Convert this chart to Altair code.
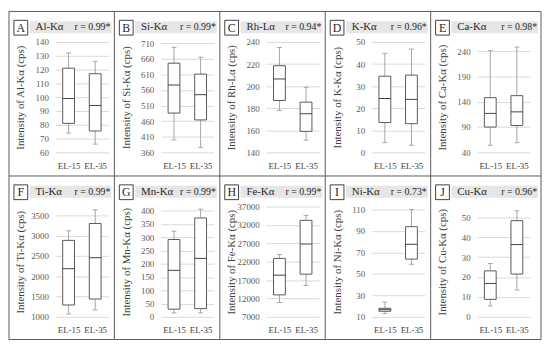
import altair as alt
import pandas as pd

letters = ["A", "B", "C", "D", "E", "F", "G", "H", "I", "J"]
elements = ["Al-Kα", "Si-Kα", "Rh-Lα", "K-Kα", "Ca-Kα",
            "Ti-Kα", "Mn-Kα", "Fe-Kα", "Ni-Kα", "Cu-Kα"]
r_labels = ["r = 0.99*", "r = 0.99*", "r = 0.94*", "r = 0.96*", "r = 0.98*",
            "r = 0.99*", "r = 0.99*", "r = 0.99*", "r = 0.73*", "r = 0.96*"]
groups = ["EL-15", "EL-35"]

# five-number summaries: [low whisker, Q1, median, Q3, high whisker]
el15 = [
    [74, 81, 99, 121, 132],
    [400, 486, 576, 646, 697],
    [178, 187, 206.5, 218.5, 235],
    [4.4, 13.5, 24.4, 34.5, 44.9],
    [54, 90, 117, 148, 241],
    [1073, 1293, 2187, 2886, 3122],
    [15, 29, 175, 291, 322],
    [10925, 12986, 18344, 22900, 23971],
    [13, 15.2, 16.7, 18, 23.8],
    [5.5, 8.8, 16.8, 23.1, 26.8],
]
el35 = [
    [66, 75.5, 94, 117, 126],
    [376, 464, 545, 611, 665],
    [151, 159, 175, 185.5, 199],
    [3.2, 13, 24, 35, 46.8],
    [59, 93, 120, 152, 248],
    [1171, 1440, 2459, 3301, 3638],
    [15, 31, 220, 372, 405],
    [15566, 18613, 26820, 33254, 34600],
    [59, 63.8, 77.6, 94, 110],
    [13.5, 21.5, 36.3, 48.3, 53.3],
]

tick_values = [
    [60, 70, 80, 90, 100, 110, 120, 130, 140],
    [360, 410, 460, 510, 560, 610, 660, 710],
    [140, 160, 180, 200, 220, 240],
    [0, 10, 20, 30, 40, 50],
    [40, 90, 140, 190, 240],
    [1000, 1500, 2000, 2500, 3000, 3500],
    [0, 50, 100, 150, 200, 250, 300, 350, 400],
    [7000, 12000, 17000, 22000, 27000, 32000, 37000],
    [10, 30, 50, 70, 90, 110],
    [0, 10, 20, 30, 40, 50],
]
y_min = [60, 360, 140, 0, 40, 1000, 0, 7000, 10, 0]
y_max = [140, 714, 240, 50, 258, 3720, 415, 37000, 112.75, 55.4]

FONT = "'Liberation Serif', 'DejaVu Serif', serif"
W, H = 54, 112
LEFT = -47          # panel left border, relative to plot area
TOP = -31           # panel top border, relative to plot area
LINE = "#595959"
WHISK = "#a6a6a6"
one = alt.Data(values=[{"k": 0}])


def vrule(x, y1, y2):
    return alt.Chart(one).mark_rule(color=LINE, strokeWidth=1).encode(
        x=alt.value(x), y=alt.value(y1), y2=alt.value(y2))


def hrule(y, x1, x2):
    return alt.Chart(one).mark_rule(color=LINE, strokeWidth=1).encode(
        y=alt.value(y), x=alt.value(x1), x2=alt.value(x2))


def panel(i):
    col, row = i % 5, i // 5
    df = pd.DataFrame({
        "group": groups,
        "low": [el15[i][0], el35[i][0]],
        "q1": [el15[i][1], el35[i][1]],
        "med": [el15[i][2], el35[i][2]],
        "q3": [el15[i][3], el35[i][3]],
        "high": [el15[i][4], el35[i][4]],
    })
    ysc = alt.Scale(domain=[y_min[i], y_max[i]], nice=False, zero=False)
    x = alt.X("group:N", sort=groups,
              scale=alt.Scale(type="point", padding=0.5),
              axis=alt.Axis(title=None, labelAngle=0, domain=False, ticks=False,
                            tickSize=0, grid=False, labelPadding=9,
                            labelOverlap=False,
                            labelFont=FONT, labelFontSize=9, labelColor="#404040"))
    yaxis = alt.Axis(values=tick_values[i], format="d", grid=True,
                     gridColor="#d9d9d9", gridWidth=1, domain=False, ticks=False,
                     tickSize=0, labelPadding=7, labelFont=FONT, labelFontSize=9,
                     labelOverlap=False, labelColor="#595959",
                     title=f"Intensity of {elements[i]} (cps)",
                     titleFont=FONT, titleFontSize=11, titleFontWeight="normal",
                     titleColor="#404040", titleX=-35, titleAngle=270,
                     titleAlign="center", titleBaseline="middle")

    def Y(field):
        return alt.Y(f"{field}:Q", scale=ysc, axis=yaxis)

    base = alt.Chart(df)
    whisk = base.mark_rule(color=WHISK, strokeWidth=1).encode(
        x=x, y=Y("low"), y2="high:Q")
    box = base.mark_bar(size=12, fill="white", stroke="#595959", strokeWidth=1).encode(
        x=x, y=Y("q1"), y2="q3:Q")
    med = base.mark_tick(size=12, thickness=1, color="#404040", opacity=1).encode(
        x=x, y=Y("med"))
    cap_lo = base.mark_tick(size=5, thickness=1, color=WHISK, opacity=1).encode(
        x=x, y=Y("low"))
    cap_hi = base.mark_tick(size=5, thickness=1, color=WHISK, opacity=1).encode(
        x=x, y=Y("high"))

    right = W + 11 if col == 4 else W + 6
    band_end = right - 3
    bottom = TOP + 167 if row == 0 else H + 23
    layers = [
        vrule(LEFT, TOP, bottom),
        hrule(TOP, LEFT, right),
    ]
    if col == 4:
        layers.append(vrule(right, TOP, bottom))
    if row == 1:
        layers.append(hrule(bottom, LEFT, right))
    band = alt.Chart(one).mark_rect(fill="#e6e6e6").encode(
        x=alt.value(LEFT + 21), x2=alt.value(band_end),
        y=alt.value(TOP + 10), y2=alt.value(TOP + 22))
    lbox = alt.Chart(one).mark_rect(fill="white", stroke="#404040", strokeWidth=1).encode(
        x=alt.value(LEFT + 5), x2=alt.value(LEFT + 19),
        y=alt.value(TOP + 9), y2=alt.value(TOP + 24))
    ltxt = alt.Chart(one).mark_text(text=letters[i], font=FONT, fontSize=12,
                                    align="center", baseline="middle", color="#262626").encode(
        x=alt.value(LEFT + 12), y=alt.value(TOP + 16.5))
    etxt = alt.Chart(one).mark_text(text=elements[i], font=FONT, fontSize=11,
                                    align="left", baseline="middle", color="#262626").encode(
        x=alt.value(LEFT + 27), y=alt.value(TOP + 16))
    rtxt = alt.Chart(one).mark_text(text=r_labels[i], font=FONT, fontSize=10,
                                    align="right", baseline="middle", color="#262626").encode(
        x=alt.value(band_end - 1), y=alt.value(TOP + 16))
    layers += [whisk, box, med, cap_lo, cap_hi, band, lbox, ltxt, etxt, rtxt]
    return alt.layer(*layers).properties(width=W, height=H)


panels = [panel(i) for i in range(10)]
chart = alt.concat(*panels, columns=5, spacing={"row": 55, "column": 53},
                   bounds="flush").properties(padding=0).configure_view(
    stroke="transparent")

chart.save("out.html", embed_options={"renderer": "svg", "actions": False})
